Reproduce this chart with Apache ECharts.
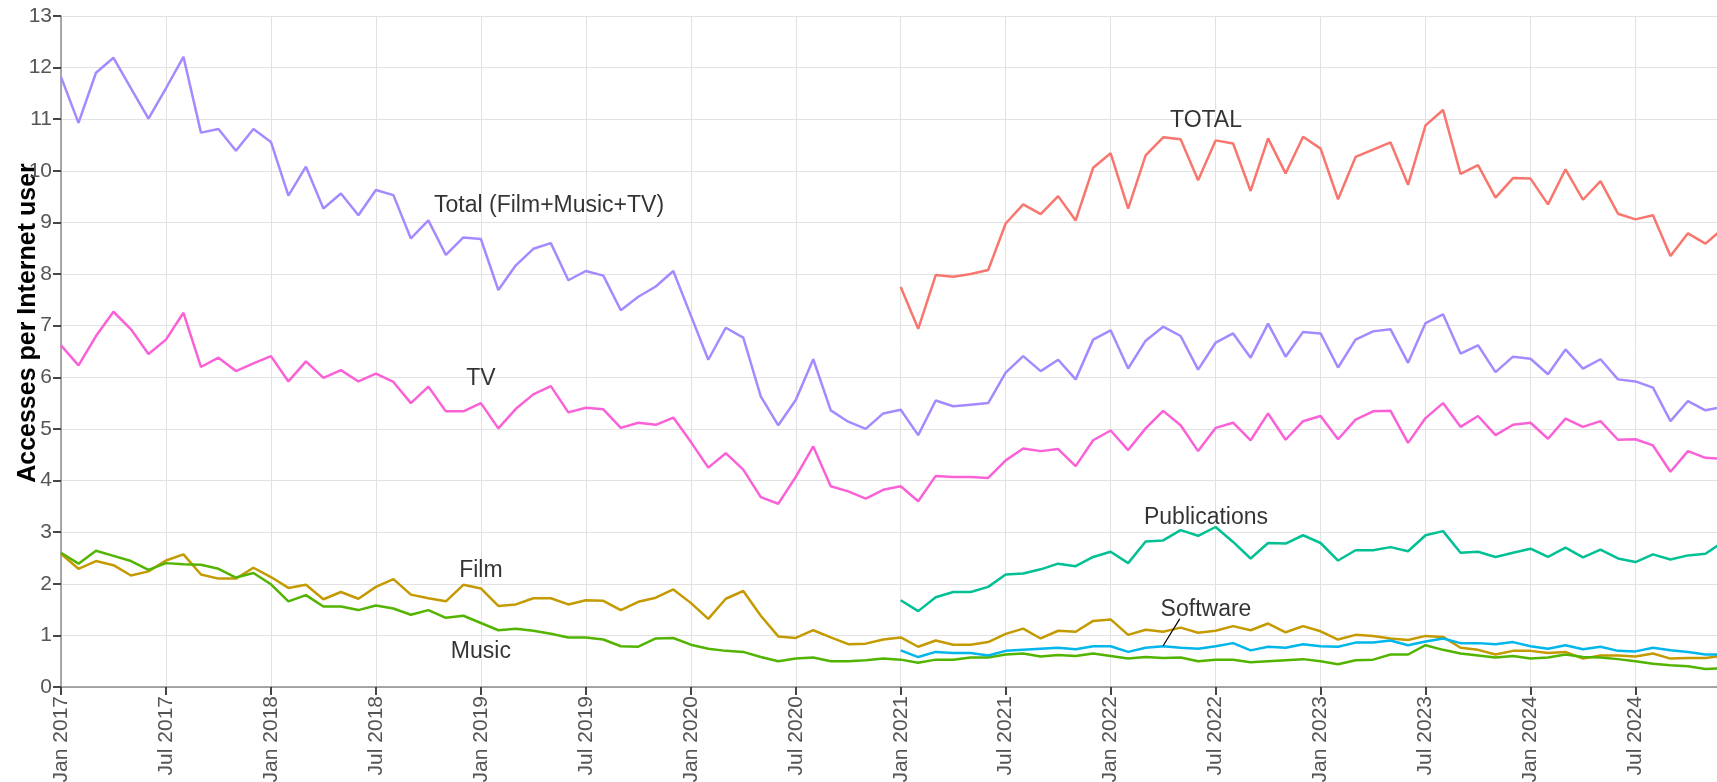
<!DOCTYPE html>
<html lang="en">
<head>
    <meta charset="utf-8">
    <title>Accesses per Internet user</title>
    <script src="https://cdn.jsdelivr.net/npm/echarts@6.0.0/dist/echarts.min.js"></script>
    <style>
        html, body { margin: 0; padding: 0; background: #fff; }
        #chart { width: 1717px; height: 782px; }
    </style>
</head>
<body>
<div id="chart"></div>
<script type="text/javascript">

// months counted from Jan 2017 (index 0)
var tickLabels = ['Jan 2017', 'Jul 2017', 'Jan 2018', 'Jul 2018', 'Jan 2019', 'Jul 2019', 'Jan 2020', 'Jul 2020',
                  'Jan 2021', 'Jul 2021', 'Jan 2022', 'Jul 2022', 'Jan 2023', 'Jul 2023', 'Jan 2024', 'Jul 2024'];

// Jan 2017 - Dec 2024
var totalFMT = [
    11.82, 10.93, 11.90, 12.19, 11.60, 11.01, 11.60, 12.21, 10.74, 10.81, 10.39, 10.81,
    10.56, 9.52, 10.08, 9.27, 9.56, 9.14, 9.63, 9.53, 8.69, 9.04, 8.37, 8.71,
    8.68, 7.69, 8.17, 8.49, 8.60, 7.88, 8.06, 7.97, 7.30, 7.56, 7.76, 8.06,
    7.20, 6.34, 6.96, 6.77, 5.63, 5.07, 5.56, 6.35, 5.36, 5.14, 5.00, 5.30,
    5.37, 4.88, 5.55, 5.44, 5.47, 5.50, 6.09, 6.41, 6.12, 6.34, 5.96, 6.73,
    6.91, 6.17, 6.71, 6.98, 6.80, 6.15, 6.67, 6.85, 6.38, 7.04, 6.40, 6.88,
    6.85, 6.19, 6.73, 6.89, 6.93, 6.28, 7.05, 7.22, 6.46, 6.62, 6.10, 6.40,
    6.36, 6.06, 6.54, 6.17, 6.35, 5.96, 5.92, 5.80, 5.15, 5.54, 5.36, 5.43
];
var tv = [
    6.62, 6.23, 6.80, 7.27, 6.93, 6.45, 6.73, 7.25, 6.20, 6.38, 6.12, 6.27,
    6.41, 5.92, 6.31, 5.99, 6.14, 5.92, 6.07, 5.91, 5.50, 5.82, 5.34, 5.34,
    5.50, 5.01, 5.39, 5.67, 5.83, 5.32, 5.41, 5.38, 5.02, 5.12, 5.08, 5.22,
    4.75, 4.25, 4.53, 4.21, 3.68, 3.55, 4.07, 4.66, 3.89, 3.79, 3.65, 3.82,
    3.89, 3.60, 4.09, 4.07, 4.07, 4.05, 4.39, 4.62, 4.57, 4.61, 4.28, 4.78,
    4.97, 4.59, 5.01, 5.35, 5.07, 4.57, 5.02, 5.12, 4.78, 5.30, 4.79, 5.15,
    5.25, 4.80, 5.18, 5.34, 5.35, 4.73, 5.21, 5.50, 5.04, 5.25, 4.88, 5.08,
    5.12, 4.81, 5.20, 5.04, 5.15, 4.79, 4.80, 4.68, 4.17, 4.57, 4.44, 4.42
];
var film = [
    2.58, 2.29, 2.44, 2.36, 2.16, 2.24, 2.45, 2.57, 2.18, 2.10, 2.10, 2.31,
    2.13, 1.92, 1.98, 1.70, 1.84, 1.71, 1.94, 2.09, 1.79, 1.72, 1.66, 1.98,
    1.91, 1.57, 1.60, 1.72, 1.72, 1.60, 1.68, 1.67, 1.49, 1.65, 1.73, 1.89,
    1.63, 1.32, 1.71, 1.86, 1.38, 0.98, 0.95, 1.10, 0.96, 0.83, 0.84, 0.92,
    0.96, 0.78, 0.90, 0.82, 0.82, 0.87, 1.03, 1.13, 0.94, 1.09, 1.07, 1.28,
    1.31, 1.01, 1.11, 1.07, 1.15, 1.05, 1.09, 1.18, 1.10, 1.23, 1.06, 1.18,
    1.08, 0.92, 1.01, 0.99, 0.94, 0.91, 0.99, 0.97, 0.76, 0.72, 0.63, 0.70,
    0.70, 0.66, 0.68, 0.55, 0.61, 0.61, 0.59, 0.65, 0.55, 0.56, 0.56, 0.61
];
var music = [
    2.60, 2.39, 2.64, 2.54, 2.44, 2.27, 2.40, 2.38, 2.37, 2.29, 2.12, 2.21,
    1.99, 1.66, 1.78, 1.56, 1.56, 1.49, 1.58, 1.52, 1.40, 1.49, 1.34, 1.38,
    1.24, 1.10, 1.13, 1.09, 1.03, 0.96, 0.96, 0.92, 0.79, 0.78, 0.94, 0.95,
    0.82, 0.74, 0.70, 0.68, 0.58, 0.50, 0.55, 0.57, 0.50, 0.50, 0.52, 0.55,
    0.53, 0.47, 0.53, 0.53, 0.57, 0.57, 0.63, 0.65, 0.59, 0.62, 0.60, 0.65,
    0.60, 0.55, 0.58, 0.56, 0.57, 0.50, 0.53, 0.53, 0.48, 0.50, 0.52, 0.54,
    0.50, 0.44, 0.52, 0.53, 0.63, 0.63, 0.81, 0.72, 0.65, 0.61, 0.57, 0.60,
    0.55, 0.57, 0.63, 0.58, 0.57, 0.54, 0.50, 0.45, 0.42, 0.40, 0.35, 0.36
];

// Jan 2021 - Dec 2024
var start2021 = 48;
var total = [
    7.75, 6.94, 7.98, 7.95, 8.00, 8.08, 8.98, 9.35, 9.16, 9.51, 9.04, 10.06,
    10.34, 9.27, 10.30, 10.65, 10.61, 9.82, 10.59, 10.53, 9.61, 10.63, 9.95, 10.66,
    10.43, 9.45, 10.27, 10.41, 10.55, 9.73, 10.88, 11.18, 9.94, 10.11, 9.48, 9.86,
    9.85, 9.35, 10.03, 9.44, 9.80, 9.17, 9.06, 9.14, 8.35, 8.79, 8.59, 8.88
];
var publications = [
    1.68, 1.47, 1.74, 1.84, 1.84, 1.94, 2.18, 2.20, 2.28, 2.39, 2.34, 2.52,
    2.62, 2.40, 2.82, 2.84, 3.04, 2.93, 3.10, 2.81, 2.49, 2.79, 2.78, 2.94,
    2.79, 2.45, 2.65, 2.65, 2.71, 2.63, 2.94, 3.02, 2.60, 2.62, 2.52, 2.60,
    2.68, 2.52, 2.70, 2.51, 2.66, 2.49, 2.42, 2.57, 2.47, 2.55, 2.58, 2.81
];
var software = [
    0.71, 0.58, 0.68, 0.66, 0.66, 0.61, 0.70, 0.72, 0.74, 0.76, 0.73, 0.79,
    0.79, 0.68, 0.76, 0.79, 0.76, 0.74, 0.79, 0.85, 0.71, 0.78, 0.76, 0.83,
    0.79, 0.78, 0.86, 0.86, 0.90, 0.81, 0.88, 0.94, 0.85, 0.85, 0.83, 0.87,
    0.79, 0.74, 0.81, 0.73, 0.78, 0.70, 0.69, 0.76, 0.71, 0.68, 0.63, 0.63
];

// text labels placed in data space (month index, value)
var labelNames = ['Total (Film+Music+TV)', 'TV', 'TOTAL', 'Film', 'Music', 'Publications', 'Software'];
var labelPos = [[27.9, 9.32], [24.0, 5.98], [65.45, 10.98], [24.0, 2.26], [24.0, 0.68], [65.45, 3.28], [65.45, 1.50]];
var softwareLeader = [[63.0, 0.80], [63.95, 1.32]];
var yTitle = 'Accesses per Internet user';

function toPoints(arr, offset) {
    return arr.map(function (v, i) { return [offset + i, v]; });
}

var font = 'Liberation Sans, Arial, Helvetica, sans-serif';

function lineSeries(name, arr, offset, color) {
    return {
        name: name,
        type: 'line',
        data: toPoints(arr, offset),
        showSymbol: false,
        symbol: 'none',
        lineStyle: { color: color, width: 2.5 },
        itemStyle: { color: color },
        silent: true,
        animation: false
    };
}

var chart = echarts.init(document.getElementById('chart'));
var option = {
    backgroundColor: '#ffffff',
    animation: false,
    grid: { left: 61, top: 16, right: 0, bottom: 95, outerBoundsMode: 'none' },
    // y axis title (sits a little above the panel centre in the original)
    graphic: [{
        type: 'text',
        x: 28,
        y: 323,
        rotation: Math.PI / 2,
        silent: true,
        style: {
            text: yTitle,
            fill: '#000',
            fontSize: 25,
            fontWeight: 'bold',
            fontFamily: font,
            align: 'center',
            verticalAlign: 'middle',
            textAlign: 'center',
            textVerticalAlign: 'middle'
        }
    }],
    xAxis: {
        type: 'value',
        min: 0,
        max: 94.66,
        interval: 6,
        axisLine: { show: true, onZero: false, lineStyle: { color: '#8c8c8c', width: 1.5 } },
        axisTick: { show: true, length: 8, lineStyle: { color: '#333333', width: 1.8 } },
        axisLabel: {
            rotate: 90,
            margin: 9,
            fontSize: 21,
            fontFamily: font,
            color: '#555555',
            showMaxLabel: false,
            formatter: function (v) {
                return v % 6 === 0 && tickLabels[v / 6] ? tickLabels[v / 6] : '';
            }
        },
        splitLine: { show: true, lineStyle: { color: '#e2e2e2', width: 1 } }
    },
    yAxis: {
        type: 'value',
        min: 0,
        max: 13,
        interval: 1,
        axisLine: { show: true, lineStyle: { color: '#8c8c8c', width: 1.5 } },
        axisTick: { show: true, length: 8, lineStyle: { color: '#333333', width: 1.8 } },
        axisLabel: { fontSize: 21, fontFamily: font, color: '#555555', margin: 9 },
        splitLine: { show: true, lineStyle: { color: '#e2e2e2', width: 1 } }
    },
    series: [
        lineSeries('Total (Film+Music+TV)', totalFMT, 0, '#A58AFF'),
        lineSeries('TV', tv, 0, '#FB61D7'),
        lineSeries('Film', film, 0, '#C49A00'),
        lineSeries('Music', music, 0, '#53B400'),
        lineSeries('TOTAL', total, start2021, '#F8766D'),
        lineSeries('Publications', publications, start2021, '#00C094'),
        lineSeries('Software', software, start2021, '#00B6EB'),
        {
            type: 'line',
            data: softwareLeader,
            showSymbol: false,
            symbol: 'none',
            lineStyle: { color: '#000', width: 1.2 },
            silent: true
        },
        {
            type: 'scatter',
            symbolSize: 1,
            itemStyle: { color: 'rgba(0,0,0,0)' },
            silent: true,
            data: labelNames.map(function (n, i) { return { name: n, value: labelPos[i] }; }),
            label: {
                show: true,
                position: 'inside',
                formatter: '{b}',
                fontSize: 23,
                fontFamily: font,
                color: '#000'
            }
        }
    ]
};
chart.setOption(option);

</script>
</body>
</html>
